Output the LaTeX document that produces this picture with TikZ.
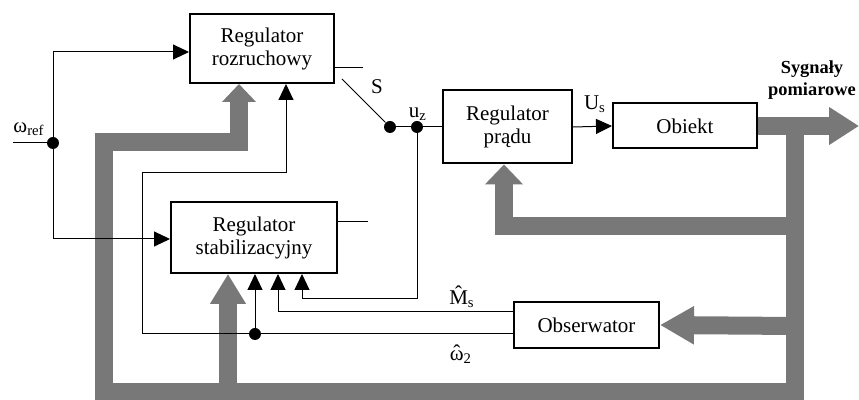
\documentclass[tikz,border=0pt]{standalone}
\usepackage{fontspec}
\setmainfont{Liberation Serif}
\usetikzlibrary{arrows.meta}
\definecolor{busgray}{RGB}{120,120,120}
\begin{document}
\begin{tikzpicture}[x=0.5pt,y=-0.5pt,
  box/.style={draw,line width=1pt,inner sep=0pt,align=center,font=\fontsize{10.5}{11.5}\selectfont},
  wire/.style={line width=0.5pt},
  arr/.style={wire,-{Triangle[length=8pt,width=7.5pt]}},
  bus/.style={draw=busgray,line width=9pt,line join=miter,line cap=butt},
  dot/.style={circle,fill,inner sep=0pt,minimum size=6pt},
  lbl/.style={inner sep=0pt,font=\fontsize{10.5}{11.5}\selectfont}]
\useasboundingbox (0,0) rectangle (859,400);
% boxes
\node[box,minimum width=72pt,minimum height=34.5pt] (rozr) at (262,48.5) {Regulator\\rozruchowy};
\node[box,minimum width=83pt,minimum height=35.5pt] (stab) at (254,237.5) {Regulator\\stabilizacyjny};
\node[box,minimum width=64.5pt,minimum height=36.5pt] (pradu) at (507.5,127) {Regulator\\prądu};
\node[box,minimum width=72pt,minimum height=22.5pt] (obiekt) at (685,126) {Obiekt};
\node[box,minimum width=72.5pt,minimum height=23pt] (obs) at (586.5,325) {Obserwator};
% coordinates
\coordinate (wref) at (13,143);
\coordinate (bout) at (859,126);
\node[dot] (j1) at (53,143) {};
\node[dot] (sw) at (390,127) {};
\node[dot] (uz) at (417,127) {};
\node[dot] (j2) at (255,334) {};
% gray buses
\draw[bus,-{Triangle[length=15pt,width=18pt]}] (obiekt.east |- bout) -- (bout);
\draw[bus,-{Triangle[length=9pt,width=16.5pt]}] (795,126) -- (795,392) -- (104,392) -- (104,142) -- (239,142) -- (rozr.south -| 239,0);
\draw[bus,-{Triangle[length=15pt,width=17pt]}] (228,392) -- (stab.south -| 228,0);
\draw[bus,-{Triangle[length=10pt,width=18.5pt]}] (795,226) -- (504,226) -- (pradu.south -| 504,0);
\draw[bus,-{Triangle[length=17pt,width=18pt]}] (795,326) -- (obs.east);
% thin wires
\draw[wire] (wref) -- (j1);
\draw[arr] (j1) |- (rozr.west |- 0,52);
\draw[arr] (j1) |- (stab.west |- 0,239);
\draw[arr] (obs.west |- 0,334) -| (142,173) -| (rozr.south -| 286,0);
\draw[arr] (j2) -- (stab.south -| j2);
\draw[arr] (obs.west |- 0,312) -| (stab.south -| 278,0);
\draw[arr] (uz) -- (417,299) -| (stab.south -| 302,0);
\draw[wire] (rozr.east |- 0,68) -- (363,68);
\draw[wire] (342,79) -- (sw);
\draw[wire] (sw) -- (uz) -- (pradu.west);
\draw[wire] (stab.east |- 0,222) -- (368,222);
\draw[arr] (pradu.east) -- (obiekt.west);
% labels
\node[lbl] (lwref) at (29,129) {ω\textsubscript{ref}};
\node[lbl] (lS) at (377,87) {S};
\node[lbl] (luz) at (418,114) {u\textsubscript{z}};
\node[lbl] (lUs) at (595,104) {U\textsubscript{s}};
\node[lbl] (lMs) at (462,297) {\^{M}\textsubscript{s}};
\node[lbl] (lw2) at (461,357) {\ooalign{ω\cr\hidewidth\raisebox{0.02em}{ˆ}\hidewidth\cr}\textsubscript{2}};
\node[inner sep=0pt,align=center,font=\fontsize{9.2}{11}\bfseries] (lsyg) at (812,80) {Sygnały\\pomiarowe};
\end{tikzpicture}
\end{document}
